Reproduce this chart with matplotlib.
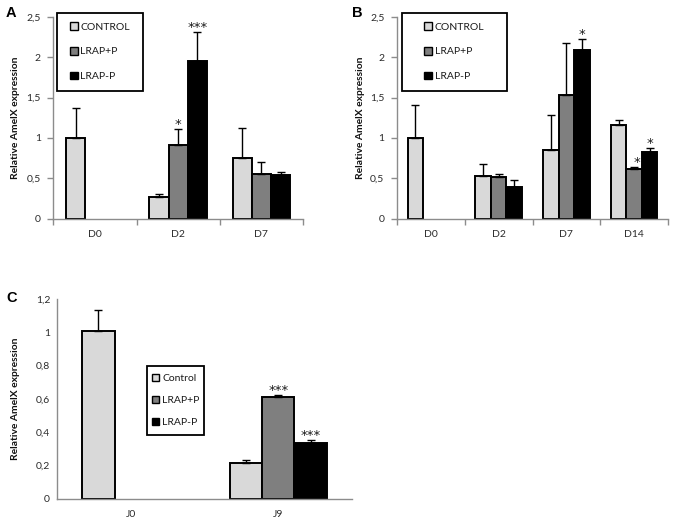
import numpy as np
import matplotlib
matplotlib.use('Agg')
import matplotlib.pyplot as plt
from matplotlib.patches import Patch, Rectangle
from matplotlib.ticker import FixedLocator

plt.rcParams['font.family'] = ['Lato', 'DejaVu Sans']

nan = np.nan

# ---- panel A ----
a_cats = ['D0', 'D2', 'D7']
a_ctrl = [1.0, 0.27, 0.75]
a_ctrl_err = [0.365, 0.035, 0.37]
a_plus = [nan, 0.915, 0.553]
a_plus_err = [nan, 0.2, 0.152]
a_minus = [nan, 1.955, 0.545]
a_minus_err = [nan, 0.355, 0.035]
a_stars = [(1, 1, '*'), (2, 1, '***')]          # (series, category, text)

# ---- panel B ----
b_cats = ['D0', 'D2', 'D7', 'D14']
b_ctrl = [1.0, 0.528, 0.846, 1.155]
b_ctrl_err = [0.41, 0.152, 0.44, 0.07]
b_plus = [nan, 0.51, 1.53, 0.61]
b_plus_err = [nan, 0.047, 0.64, 0.03]
b_minus = [nan, 0.396, 2.087, 0.82]
b_minus_err = [nan, 0.087, 0.137, 0.05]
b_stars = [(2, 2, '*'), (1, 3, '*'), (2, 3, '*')]

# ---- panel C ----
c_cats = ['J0', 'J9']
c_ctrl = [1.01, 0.214]
c_ctrl_err = [0.124, 0.02]
c_plus = [nan, 0.61]
c_plus_err = [nan, 0.014]
c_minus = [nan, 0.338]
c_minus_err = [nan, 0.016]
c_stars = [(1, 1, '***'), (2, 1, '***')]

ab_ticks = [0, 0.5, 1, 1.5, 2, 2.5]
ab_ticklabels = ['0', '0,5', '1', '1,5', '2', '2,5']
c_ticks = [0, 0.2, 0.4, 0.6, 0.8, 1.0, 1.2]
c_ticklabels = ['0', '0,2', '0,4', '0,6', '0,8', '1', '1,2']

colors = ['#d9d9d9', '#7f7f7f', '#000000']
W, H = 673, 529
fig = plt.figure(figsize=(W / 100, H / 100), dpi=100)


def px_axes(left, top, right, bottom):
    return fig.add_axes([left / W, 1 - bottom / H, (right - left) / W, (bottom - top) / H])


def panel(ax, cats, series, errs, stars, ticks, ticklabels, width, cat_ticks=True, ytick_len=4):
    x = np.arange(len(cats))
    offs = [-width, 0, width]
    for i, (vals, err) in enumerate(zip(series, errs)):
        vals = np.array(vals, dtype=float)
        err = np.array(err, dtype=float)
        ax.bar(x + offs[i], vals, width, color=colors[i], edgecolor='black', linewidth=1.4,
               yerr=[np.zeros_like(err), err], capsize=2.6,
               error_kw=dict(elinewidth=1.0, capthick=1.0, ecolor='black'), zorder=2)
    for s, c, txt in stars:
        top = series[s][c] + errs[s][c]
        dx = 2 if (s == 1 and len(cats) == 4 and c == 3) else 0
        ax.annotate(txt, (x[c] + offs[s], top), xytext=(dx, 3.2), textcoords='offset points',
                    ha='center', va='center', fontsize=9.5, color='#1a1a1a',
                    family='DejaVu Sans')
    ax.set_xlim(-0.5, len(cats) - 0.5)
    ax.set_ylim(ticks[0], ticks[-1])
    ax.set_yticks(ticks)
    ax.set_yticklabels(ticklabels)
    ax.set_xticks(x)
    ax.set_xticklabels(cats)
    for sp in ['top', 'right']:
        ax.spines[sp].set_visible(False)
    for sp in ['left', 'bottom']:
        ax.spines[sp].set_color('#8c8c8c')
        ax.spines[sp].set_linewidth(1.0)
    ax.tick_params(axis='x', which='major', length=0, pad=8, labelsize=7.5, labelcolor='#2b2b2b')
    ax.tick_params(axis='y', length=ytick_len, width=1.0, color='#8c8c8c', pad=5,
                   labelsize=7.5, labelcolor='#2b2b2b')
    if cat_ticks:
        ax.xaxis.set_minor_locator(FixedLocator(np.arange(len(cats) + 1) - 0.5))
        ax.tick_params(axis='x', which='minor', length=4, width=1.0, color='#8c8c8c')
    ax.set_ylabel('Relative AmelX expression', fontsize=7.4, fontweight='bold', color='#111111')


def legend_box(labels, left, top, right, bottom, spacing):
    fig.patches.append(Rectangle((left / W, 1 - bottom / H), (right - left) / W, (bottom - top) / H,
                                 transform=fig.transFigure, fill=False, edgecolor='black',
                                 linewidth=1.3, zorder=5))
    handles = [Patch(facecolor=c, edgecolor='black', linewidth=1.0) for c in colors]
    fig.legend(handles, labels, loc='center',
               bbox_to_anchor=((left + right) / 2 / W, 1 - (top + bottom) / 2 / H),
               frameon=False, fontsize=7.5, handlelength=0.75, handleheight=0.75,
               handletextpad=0.25, labelspacing=spacing, borderpad=0,
               labelcolor='#1a1a1a')


axA = px_axes(53.3, 16.7, 303, 218.7)
panel(axA, a_cats, [a_ctrl, a_plus, a_minus], [a_ctrl_err, a_plus_err, a_minus_err],
      a_stars, ab_ticks, ab_ticklabels, 0.23)
axA.yaxis.set_label_coords(-0.133, 0.5)

axB = px_axes(397, 16.7, 668, 218.7)
panel(axB, b_cats, [b_ctrl, b_plus, b_minus], [b_ctrl_err, b_plus_err, b_minus_err],
      b_stars, ab_ticks, ab_ticklabels, 0.23)
axB.yaxis.set_label_coords(-0.118, 0.5)

axC = px_axes(57, 299, 352, 499)
panel(axC, c_cats, [c_ctrl, c_plus, c_minus], [c_ctrl_err, c_plus_err, c_minus_err],
      c_stars, c_ticks, c_ticklabels, 0.22, cat_ticks=False, ytick_len=0)
axC.yaxis.set_label_coords(-0.125, 0.5)

legend_box(['CONTROL', 'LRAP+P', 'LRAP-P'], 57, 12.7, 143, 90.7, 1.45)
legend_box(['CONTROL', 'LRAP+P', 'LRAP-P'], 401.7, 12.7, 506.7, 90.7, 1.45)
legend_box(['Control', 'LRAP+P', 'LRAP-P'], 147, 366, 204, 435, 1.2)

for letter, (lx, ly) in zip(['A', 'B', 'C'], [(10.5, 13), (357, 13), (12, 297.5)]):
    fig.text(lx / W, 1 - ly / H, letter, ha='center', va='center', fontsize=10.5,
             fontweight='bold', family='Liberation Sans')

fig.savefig('out.png', dpi=100)
